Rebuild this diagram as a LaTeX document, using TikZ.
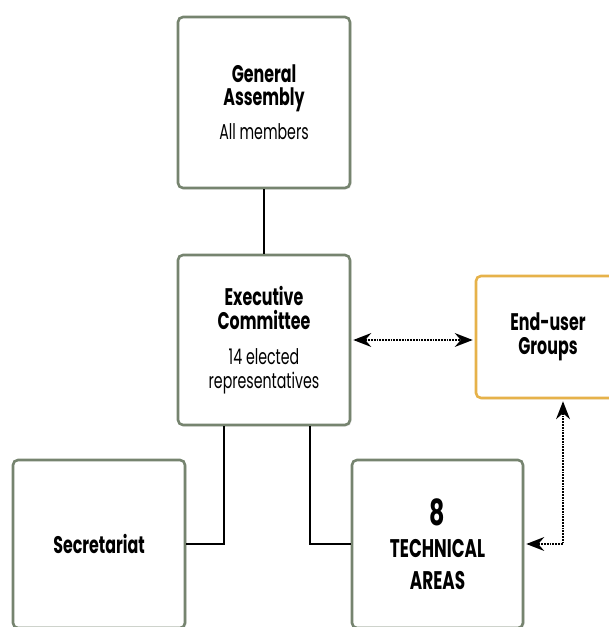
\documentclass[tikz,border=0pt]{standalone}
\usepackage{fontspec}
\setmainfont{Poppins}[FakeStretch=0.66]
\usepackage{xcolor}
\usepackage{tikz}
\usetikzlibrary{positioning, arrows.meta, shadows}

\definecolor{boxgreen}{HTML}{76846F}
\definecolor{boxgold}{HTML}{E6B24A}
\newcommand{\notefont}{\fontsize{21.5}{24}\selectfont\mdseries}

\begin{document}
\begin{tikzpicture}[
    x=1pt, y=1pt,
    body/.style={rectangle, rounded corners=5pt, draw=boxgreen, line width=2.6pt, fill=white,
        align=center, inner sep=0pt, font=\fontsize{24}{24}\selectfont\bfseries,
        drop shadow={opacity=0.18, shadow xshift=1.5pt, shadow yshift=-1.5pt}},
    userbox/.style={body, draw=boxgold},
    link/.style={line width=1.8pt},
    dotlink/.style={{Stealth[length=18pt, width=14pt, inset=6pt, line width=0pt]}-{Stealth[length=18pt, width=14pt, inset=6pt, line width=0pt]},
        line width=1.8pt, densely dotted}
]
    \useasboundingbox (0,0) rectangle (609,627);
    \clip (0,0) rectangle (609,627);

    % Bodies
    \node[body, minimum width=172pt, minimum height=171pt] (ga) at (264,524.5)
        {General\\[-1pt]Assembly\\[10pt] \notefont All members};
    \node[body, minimum width=172pt, minimum height=170pt] (ec) at (264,287)
        {Executive\\Committee\\[11pt] \notefont 14 elected\\ \notefont representatives};
    \node[userbox, minimum width=144pt, minimum height=122pt] (eu) at (548,290)
        {End-user\\Groups};
    \node[body, minimum width=172pt, minimum height=168pt] (sec) at (99,83)
        {Secretariat};
    \node[body, minimum width=171pt, minimum height=168pt, font=\fontsize{25.5}{32}\selectfont\bfseries] (ta) at (437.5,83)
        {\fontsize{36}{32}\selectfont 8\\TECHNICAL\\AREAS};

    % Links
    \draw[link] (ga) -- (ec);
    \draw[link] ([xshift=47pt]ec.south west) |- (sec.east);
    \draw[link] ([xshift=-41pt]ec.south east) |- (ta.west);
    \draw[dotlink] ([xshift=2pt]ec.east) -- ([xshift=-2pt]ec.east -| eu.west);
    \draw[dotlink] ([xshift=2pt]ta.east) -| ([xshift=15pt,yshift=-2pt]eu.south);
\end{tikzpicture}
\end{document}
